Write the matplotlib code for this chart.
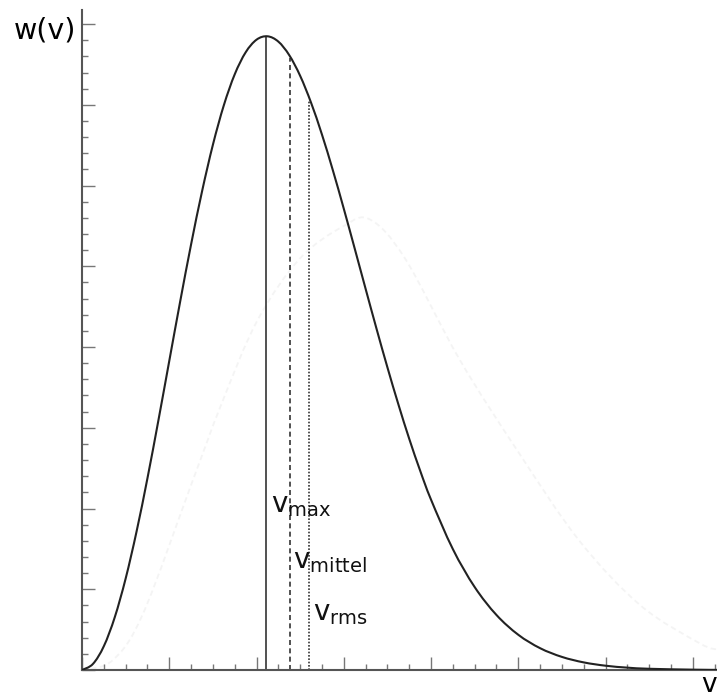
import matplotlib
matplotlib.use("Agg")
import matplotlib.pyplot as plt
import numpy as np
from matplotlib.path import Path
from matplotlib.patches import PathPatch
from matplotlib.ticker import MultipleLocator

plt.rcParams["font.family"] = "DejaVu Sans"
plt.rcParams["mathtext.fontset"] = "dejavusans"

# ---- Werte ----
v = [0.0, 0.125, 0.25, 0.375, 0.5, 0.625, 0.75, 0.875, 1.0, 1.125, 1.25, 1.375,
     1.5, 1.625, 1.75, 1.875, 2.0, 2.125, 2.25, 2.375, 2.5, 2.625, 2.75, 2.875,
     3.0, 3.125, 3.25, 3.375, 3.5, 3.625, 3.75, 3.875, 4.0, 4.25, 4.5, 4.75,
     5.0, 5.25, 5.5, 5.75, 6.0, 6.25, 6.5, 7.0, 7.3]
w = [0.0, 0.075, 0.295, 0.653, 1.133, 1.715, 2.376, 3.090, 3.829, 4.565, 5.272, 5.926,
     6.506, 6.994, 7.378, 7.650, 7.807, 7.849, 7.783, 7.615, 7.359, 7.026, 6.631, 6.188,
     5.713, 5.220, 4.721, 4.227, 3.748, 3.292, 2.863, 2.469, 2.109, 1.497, 1.027, 0.681,
     0.436, 0.270, 0.162, 0.094, 0.053, 0.029, 0.015, 0.004, 0.001]

# schwach sichtbare zweite Kurve im Hintergrund
v_ghost = [0.0, 0.35, 0.7, 1.27, 1.6, 2.01, 2.5, 3.0, 3.3, 3.7, 4.33, 5.0, 5.7, 6.4, 7.08, 7.3]
w_ghost = [0.0, 0.12, 0.7, 2.35, 3.3, 4.33, 5.1, 5.5, 5.58, 5.1, 3.84, 2.7, 1.6, 0.8, 0.33, 0.25]

# charakteristische Geschwindigkeiten und Höhe der Linien
v_char = [2.11, 2.38, 2.6]
w_char = [7.85, 7.58, 7.05]
labels = [r"v$_{\rm max}$", r"v$_{\rm mittel}$", r"v$_{\rm rms}$"]
label_pos = [(2.17, 1.96), (2.414, 1.26), (2.643, 0.62)]


def smooth_path(xs, ys):
    """Catmull-Rom durch die Punkte -> kubische Bezier-Kurve"""
    p = np.column_stack([xs, ys]).astype(float)
    verts = [p[0]]
    codes = [Path.MOVETO]
    for i in range(len(p) - 1):
        p0 = p[i - 1] if i > 0 else p[i]
        p3 = p[i + 2] if i + 2 < len(p) else p[i + 1]
        c1 = p[i] + (p[i + 1] - p0) / 6.0
        c2 = p[i + 1] - (p3 - p[i]) / 6.0
        verts += [c1, c2, p[i + 1]]
        codes += [Path.CURVE4] * 3
    return Path(verts, codes)


# ---- Zeichnen ----
fig = plt.figure(figsize=(7.17, 6.99), dpi=100)
ax = fig.add_axes([0.1144, 0.0415, 0.8856, 0.944])

ax.add_patch(PathPatch(smooth_path(v_ghost, w_ghost), fill=False, edgecolor="#f4f4f4",
                       lw=1.3, ls=(0, (3, 2)), zorder=1))
ax.add_patch(PathPatch(smooth_path(v, w), fill=False, edgecolor="#222222",
                       lw=1.5, zorder=3))

styles = ["-", (0, (3, 2)), (0, (1, 1))]
for x, h, ls in zip(v_char, w_char, styles):
    ax.vlines(x, 0, h, colors="#333333", lw=1.2, linestyles=[ls], zorder=2)

for lab, (x, y) in zip(labels, label_pos):
    ax.text(x, y, lab, fontsize=20, ha="left", va="baseline", color="#111111")

ax.set_xlim(0, 7.277)
ax.set_ylim(0, 8.173)

ax.xaxis.set_major_locator(MultipleLocator(1))
ax.xaxis.set_minor_locator(MultipleLocator(0.25))
ax.yaxis.set_major_locator(MultipleLocator(1))
ax.yaxis.set_minor_locator(MultipleLocator(0.2))
ax.tick_params(which="both", direction="in", colors="#777777", width=1.0,
               labelbottom=False, labelleft=False)
ax.tick_params(which="major", length=9.5)
ax.tick_params(which="minor", length=4.5)

for side in ["top", "right"]:
    ax.spines[side].set_visible(False)
for side in ["left", "bottom"]:
    ax.spines[side].set_color("#555555")
    ax.spines[side].set_linewidth(1.5)

fig.text(76 / 717, 1 - 30 / 699, "w(v)", fontsize=20.5, ha="right", va="center")
fig.text(701 / 717, 1 - 692 / 699, "v", fontsize=19, ha="left", va="baseline")

fig.savefig("out.png", dpi=100)
